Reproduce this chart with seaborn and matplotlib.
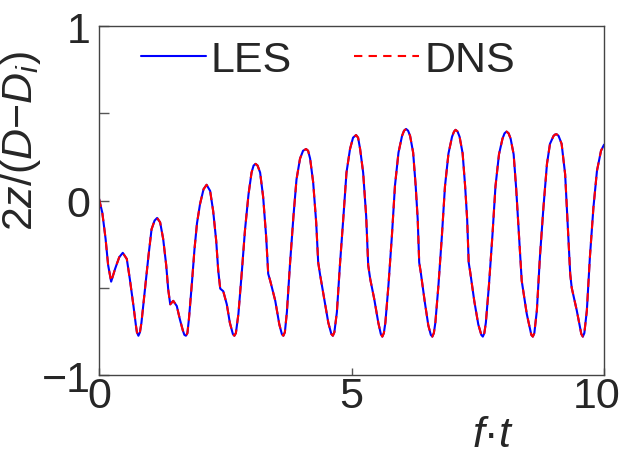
import pandas as pd
import seaborn as sns
import matplotlib.pyplot as plt
from matplotlib.transforms import ScaledTranslation

# Values
t = [0.00, 0.065, 0.13, 0.18, 0.24, 0.32, 0.40, 0.47, 0.55, 0.61, 0.68, 0.73, 0.75, 0.78, 0.81,
     0.84, 0.91, 0.98, 1.04, 1.10, 1.15, 1.21, 1.27, 1.33, 1.37, 1.41, 1.47, 1.54,
     1.60, 1.66, 1.69, 1.72, 1.75,
     1.78, 1.84, 1.89, 1.94, 2.00, 2.07, 2.13, 2.20, 2.26, 2.32, 2.36, 2.40, 2.46,
     2.53, 2.59, 2.65, 2.68, 2.71,
     2.76, 2.83, 2.89, 2.96, 3.02, 3.06, 3.10, 3.14, 3.19, 3.25, 3.31, 3.35, 3.39, 3.49,
     3.57, 3.62, 3.65, 3.68,
     3.72, 3.78, 3.85, 3.91, 3.98, 4.04, 4.10, 4.14, 4.18, 4.24, 4.30, 4.34, 4.38, 4.46,
     4.54, 4.60, 4.63, 4.66,
     4.71, 4.77, 4.84, 4.90, 4.97, 5.03, 5.09, 5.13, 5.17, 5.23, 5.29, 5.33, 5.37, 5.45,
     5.53, 5.58, 5.61, 5.64,
     5.67, 5.73, 5.80, 5.86, 5.93, 6.00, 6.04, 6.08, 6.12, 6.16, 6.22, 6.27, 6.31, 6.34, 6.37,
     6.45, 6.52, 6.57, 6.60, 6.63,
     6.66, 6.72, 6.79, 6.85, 6.92, 6.99, 7.03, 7.06, 7.10, 7.14, 7.20, 7.25, 7.29, 7.32, 7.35,
     7.43, 7.51, 7.57, 7.60, 7.63,
     7.66, 7.72, 7.79, 7.85, 7.92, 7.99, 8.03, 8.07, 8.11, 8.15, 8.21, 8.26, 8.30, 8.34, 8.37,
     8.47, 8.56, 8.59, 8.62,
     8.67, 8.73, 8.80, 8.87, 8.93, 9.00, 9.03, 9.06, 9.10, 9.16, 9.23, 9.28, 9.33, 9.36, 9.46,
     9.52, 9.55, 9.58, 9.61,
     9.66, 9.72, 9.79, 9.86, 9.94, 10.00]
z = [0.01, -0.07, -0.22, -0.37, -0.465, -0.39, -0.325, -0.30, -0.335, -0.45, -0.60, -0.715, -0.755, -0.775, -0.755,
     -0.70, -0.51, -0.315, -0.165, -0.115, -0.10, -0.125, -0.22, -0.37, -0.51, -0.595, -0.575, -0.605,
     -0.68, -0.745, -0.77, -0.775, -0.76,
     -0.68, -0.47, -0.28, -0.13, -0.02, 0.065, 0.09, 0.055, -0.06, -0.23, -0.40, -0.505, -0.52,
     -0.595, -0.70, -0.765, -0.775, -0.76,
     -0.65, -0.40, -0.17, 0.035, 0.16, 0.20, 0.21, 0.20, 0.16, 0.02, -0.21, -0.42, -0.46, -0.575,
     -0.71, -0.765, -0.775, -0.755,
     -0.64, -0.37, -0.09, 0.12, 0.24, 0.285, 0.295, 0.285, 0.24, 0.105, -0.125, -0.355, -0.43, -0.565,
     -0.70, -0.765, -0.775, -0.755,
     -0.64, -0.37, -0.09, 0.16, 0.295, 0.36, 0.375, 0.36, 0.295, 0.16, -0.09, -0.37, -0.45, -0.565,
     -0.70, -0.765, -0.78, -0.76,
     -0.70, -0.49, -0.20, 0.085, 0.275, 0.37, 0.40, 0.41, 0.40, 0.37, 0.275, 0.085, -0.105, -0.355, -0.41,
     -0.58, -0.715, -0.77, -0.78, -0.76,
     -0.70, -0.49, -0.20, 0.08, 0.27, 0.365, 0.395, 0.405, 0.395, 0.365, 0.27, 0.08, -0.11, -0.355, -0.41,
     -0.575, -0.71, -0.77, -0.78, -0.76,
     -0.70, -0.49, -0.20, 0.08, 0.265, 0.355, 0.385, 0.395, 0.385, 0.355, 0.265, 0.07, -0.12, -0.31, -0.46,
     -0.65, -0.77, -0.78, -0.76,
     -0.63, -0.325, -0.04, 0.21, 0.325, 0.37, 0.378, 0.38, 0.37, 0.325, 0.15, -0.135, -0.42, -0.50, -0.63,
     -0.72, -0.765, -0.78, -0.76,
     -0.63, -0.325, -0.04, 0.17, 0.285, 0.32]

models = ['LES', 'DNS']
colors = {'LES': '#0000ff', 'DNS': '#ff0000'}

df = pd.concat([pd.DataFrame({'t': t, 'z': z, 'model': m}) for m in models])

sns.set_style('ticks')
plt.rcParams['font.family'] = ['Liberation Sans', 'DejaVu Sans']
plt.rcParams['mathtext.fontset'] = 'custom'
plt.rcParams['mathtext.rm'] = 'Liberation Sans'
plt.rcParams['mathtext.it'] = 'Liberation Sans:italic'

fs = 31

fig = plt.figure(figsize=(6.24, 4.6), dpi=100)
ax = fig.add_axes([0.1587, 0.1826, 0.8093, 0.7587])

sns.lineplot(data=df, x='t', y='z', hue='model', style='model', hue_order=models,
             style_order=models, palette=colors, dashes={'LES': '', 'DNS': (4, 3)},
             estimator=None, sort=False, linewidth=1.5, ax=ax)

ax.set_xlim(0, 10)
ax.set_ylim(-1, 1)
ax.set_xticks([0, 5, 10])
ax.set_yticks([-1, -0.5, 0, 0.5, 1])
ax.set_yticklabels(['\u22121', '', '0', '', '1'])
ax.tick_params(axis='both', direction='in', labelsize=fs, color='#555555', width=1)
ax.tick_params(axis='y', length=7, pad=6)
ax.tick_params(axis='x', length=5, pad=1)
for s in ax.spines.values():
    s.set_color('#444444')
    s.set_linewidth(1)

# keep the "10" inside the figure edge
last = ax.get_xticklabels()[-1]
last.set_transform(last.get_transform() + ScaledTranslation(-5 / 72, 0, fig.dpi_scale_trans))

ax.set_xlabel('$f$\u00b7$t$', fontsize=fs)
ax.xaxis.set_label_coords(0.78, -0.115)
ax.set_ylabel(r'$2z/(D{-}D_i)$', fontsize=fs)
ax.yaxis.set_label_coords(-0.11, 0.675)

sns.move_legend(ax, 'upper left', bbox_to_anchor=(0.083, 0.96), ncol=2, frameon=False,
                title=None, fontsize=fs, handlelength=1.5, handletextpad=0.12,
                columnspacing=1.45, borderpad=0, borderaxespad=0)

fig.savefig('out.png', dpi=100)
